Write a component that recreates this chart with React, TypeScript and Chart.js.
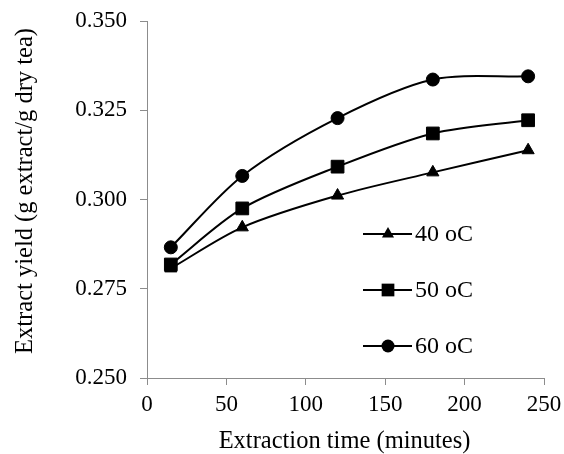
import React, { useEffect, useRef } from "react";
import { Chart, registerables } from "chart.js";

Chart.register(...registerables);

const times = [15, 60, 120, 180, 240];
const yield40 = [0.2807, 0.2922, 0.3011, 0.3076, 0.3138];
const yield50 = [0.2818, 0.2975, 0.3092, 0.3185, 0.3222];
const yield60 = [0.2866, 0.3066, 0.3228, 0.3336, 0.3345];
const seriesLabels = ["40 oC", "50 oC", "60 oC"];
const xTitle = "Extraction time (minutes)";
const yTitle = "Extract yield (g extract/g dry tea)";

const FONT = "'Liberation Serif', 'Times New Roman', serif";
const AXIS_GRAY = "#8c8c8c";

const legendPlugin = {
  id: "insideLegend",
  afterDraw(chart: any) {
    const ctx = chart.ctx;
    const rows = [234, 290, 346];
    const x0 = 363;
    const x1 = 412;
    const mx = 388;
    ctx.save();
    chart.data.datasets.forEach((ds: any, i: number) => {
      const y = rows[i];
      ctx.strokeStyle = "#000";
      ctx.lineWidth = 2;
      ctx.beginPath();
      ctx.moveTo(x0, y);
      ctx.lineTo(x1, y);
      ctx.stroke();
      ctx.fillStyle = "#000";
      const r = ds.pointRadius;
      ctx.beginPath();
      if (ds.pointStyle === "triangle") {
        let rad = 0;
        ctx.moveTo(mx + Math.sin(rad) * r, y - Math.cos(rad) * r);
        rad += (2 * Math.PI) / 3;
        ctx.lineTo(mx + Math.sin(rad) * r, y - Math.cos(rad) * r);
        rad += (2 * Math.PI) / 3;
        ctx.lineTo(mx + Math.sin(rad) * r, y - Math.cos(rad) * r);
        ctx.closePath();
      } else if (ds.pointStyle === "rect") {
        const s = r * Math.SQRT1_2;
        ctx.rect(mx - s, y - s, 2 * s, 2 * s);
      } else {
        ctx.arc(mx, y, r, 0, Math.PI * 2);
      }
      ctx.fill();
      ctx.font = `24px ${FONT}`;
      ctx.textAlign = "left";
      ctx.textBaseline = "middle";
      ctx.fillText(ds.label, 415, y + 1);
    });
    ctx.restore();
  },
};

const titlePlugin = {
  id: "axisTitles",
  afterDraw(chart: any) {
    const ctx = chart.ctx;
    const area = chart.chartArea;
    ctx.save();
    ctx.fillStyle = "#000";
    ctx.font = `24.5px ${FONT}`;
    ctx.textAlign = "center";
    ctx.textBaseline = "middle";
    ctx.fillText(xTitle, (area.left + area.right) / 2 - 1, 442);
    ctx.translate(26, 191);
    ctx.rotate(-Math.PI / 2);
    ctx.fillText(yTitle, 0, 0);
    ctx.restore();
  },
};

const bgPlugin = {
  id: "bg",
  beforeDraw(chart: any) {
    const ctx = chart.ctx;
    ctx.save();
    ctx.fillStyle = "#ffffff";
    ctx.fillRect(0, 0, chart.width, chart.height);
    ctx.restore();
  },
};

function makeDataset(label: string, values: number[], style: string, radius: number) {
  return {
    label,
    data: times.map((t, i) => ({ x: t, y: values[i] })),
    borderColor: "#000",
    backgroundColor: "#000",
    borderWidth: 2,
    pointStyle: style,
    pointRadius: radius,
    pointBorderWidth: 1,
    pointBackgroundColor: "#000",
    pointBorderColor: "#000",
    tension: 0.3,
    clip: false,
  };
}

export default function App() {
  const ref = useRef<HTMLCanvasElement>(null);
  useEffect(() => {
    if (!ref.current) return;
    const chart = new Chart(ref.current, {
      type: "line",
      data: {
        datasets: [
          makeDataset(seriesLabels[0], yield40, "triangle", 7),
          makeDataset(seriesLabels[1], yield50, "rect", 9),
          makeDataset(seriesLabels[2], yield60, "circle", 6.5),
        ],
      },
      options: {
        responsive: false,
        animation: false,
        devicePixelRatio: 1,
        layout: { padding: { left: 0, top: 21, right: 20, bottom: 0 } },
        plugins: {
          legend: { display: false },
          tooltip: { enabled: false },
        },
        scales: {
          x: {
            type: "linear",
            min: 0,
            max: 250,
            ticks: {
              stepSize: 50,
              color: "#000",
              font: { family: FONT, size: 23 },
              padding: 6,
            },
            grid: {
              drawOnChartArea: false,
              drawTicks: true,
              tickLength: 7,
              tickColor: AXIS_GRAY,
            },
            border: { color: AXIS_GRAY, width: 1 },
            afterFit: (scale: any) => {
              scale.height = 76;
              scale.paddingLeft = 0;
              scale.paddingRight = 0;
            },
          },
          y: {
            type: "linear",
            min: 0.25,
            max: 0.35,
            ticks: {
              stepSize: 0.025,
              color: "#000",
              font: { family: FONT, size: 23 },
              padding: 13,
              callback: (v: any) => Number(v).toFixed(3),
            },
            grid: {
              drawOnChartArea: false,
              drawTicks: true,
              tickLength: 7,
              tickColor: AXIS_GRAY,
            },
            border: { color: AXIS_GRAY, width: 1 },
            afterFit: (scale: any) => {
              scale.width = 147;
              scale.paddingTop = 0;
              scale.paddingBottom = 0;
            },
          },
        },
      },
      plugins: [bgPlugin, legendPlugin, titlePlugin],
    } as any);
    return () => chart.destroy();
  }, []);
  return (
    <div style={{ position: "absolute", left: 0, top: 0, width: 564, height: 454, background: "#fff" }}>
      <canvas ref={ref} width={564} height={454} />
    </div>
  );
}
